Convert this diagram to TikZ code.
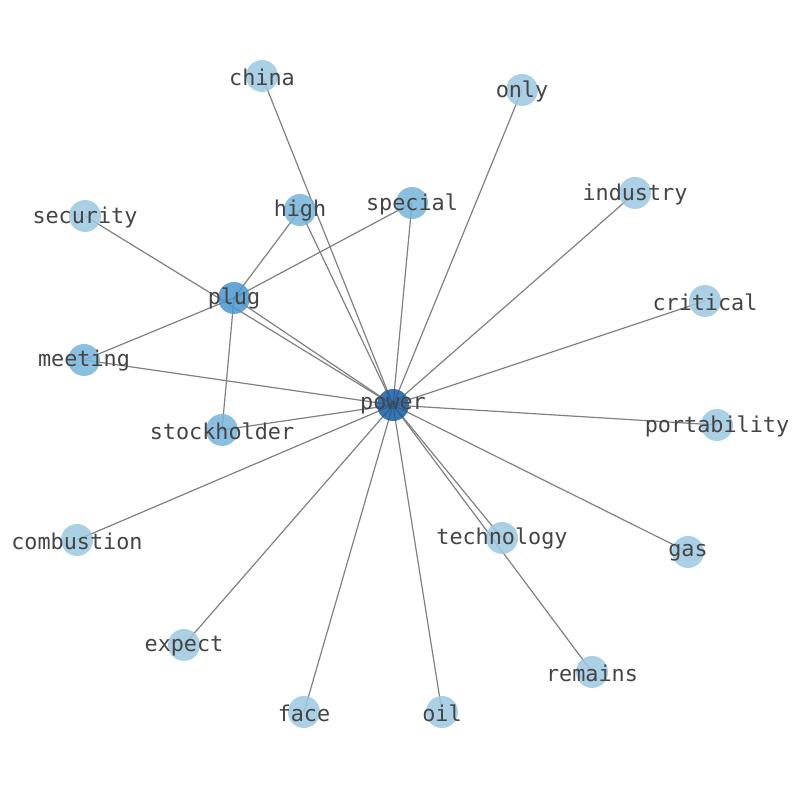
\documentclass[tikz,border=0pt]{standalone}
\usepackage{fontspec}
\setmonofont{DejaVu Sans Mono}
\usetikzlibrary{backgrounds}
\definecolor{leafblue}{RGB}{156,200,226}
\definecolor{midblue}{RGB}{119,180,219}
\definecolor{plugblue}{RGB}{73,150,207}
\definecolor{hubblue}{RGB}{24,93,161}
\definecolor{labelgray}{RGB}{68,68,68}
\tikzset{
  word/.style={circle, minimum size=16pt, inner sep=0pt, fill opacity=0.85,
    text opacity=1, fill=leafblue},
  edge/.style={draw=gray, line width=0.6pt},
  wordlabel/.style={font=\ttfamily\fontsize{10.9}{13}\selectfont, text=labelgray,
    yshift=-0.5pt}
}
\begin{document}
\begin{tikzpicture}[x=0.5pt, y=-0.5pt]
    \useasboundingbox (0,0) rectangle (794,790);

    % Hub and its neighbours
    \node[word, fill=hubblue] (power) at (393,405) {};
    \node[word, fill=plugblue] (plug) at (234,298) {};
    \node[word, fill=midblue] (high) at (300,210) {};
    \node[word, fill=midblue] (special) at (412,203) {};
    \node[word, fill=midblue] (meeting) at (84,360) {};
    \node[word, fill=midblue] (stockholder) at (222,430) {};
    \node[word] (china) at (262,76) {};
    \node[word] (only) at (522,90) {};
    \node[word] (security) at (85,216) {};
    \node[word] (industry) at (635,193) {};
    \node[word] (critical) at (705,301) {};
    \node[word] (portability) at (717,425) {};
    \node[word] (combustion) at (77,540) {};
    \node[word] (technology) at (502,538) {};
    \node[word] (gas) at (688,552) {};
    \node[word] (expect) at (184,645) {};
    \node[word] (remains) at (592,672) {};
    \node[word] (face) at (304,712) {};
    \node[word] (oil) at (442,712) {};

    % Edges under the nodes
    \begin{pgfonlayer}{background}
        \foreach \w in {china, only, high, special, industry, critical, portability,
            gas, remains, technology, oil, face, expect, combustion, stockholder,
            meeting, plug, security}
            \draw[edge] (power.center) -- (\w.center);
        \foreach \w in {high, special, meeting, stockholder}
            \draw[edge] (plug.center) -- (\w.center);
    \end{pgfonlayer}

    % Labels on top
    \foreach \w in {power, plug, high, special, meeting, stockholder, china, only,
        security, industry, critical, portability, combustion, technology, gas,
        expect, remains, face, oil}
        \node[wordlabel] at (\w.center) {\w};
\end{tikzpicture}
\end{document}
